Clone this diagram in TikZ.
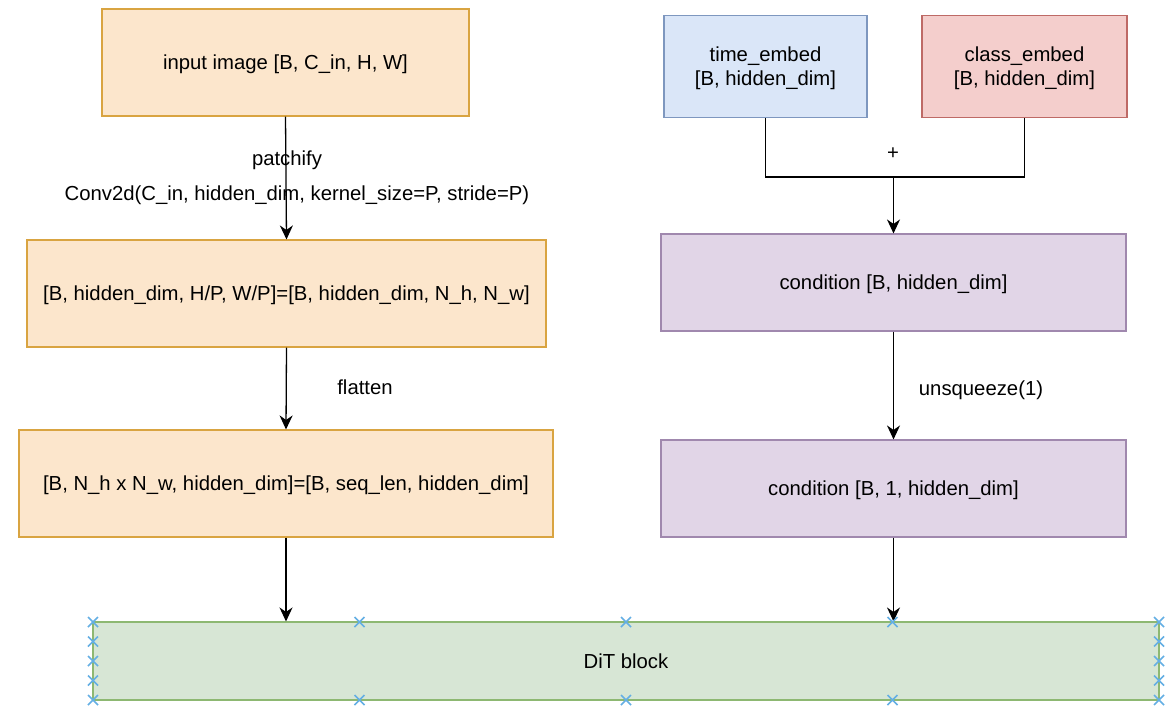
\documentclass[tikz,border=0pt]{standalone}
\usepackage{fontspec}
\setmainfont{Liberation Sans}
\usetikzlibrary{arrows.meta}
\definecolor{orF}{HTML}{FCE6CC}\definecolor{orD}{HTML}{D9A441}
\definecolor{blF}{HTML}{DAE6F8}\definecolor{blD}{HTML}{7E97BF}
\definecolor{rdF}{HTML}{F4CECC}\definecolor{rdD}{HTML}{BE6A66}
\definecolor{puF}{HTML}{E1D5E7}\definecolor{puD}{HTML}{A088AE}
\definecolor{gnF}{HTML}{D7E6D5}\definecolor{gnD}{HTML}{8DB872}
\definecolor{mk}{RGB}{100,175,228}
\begin{document}
\begin{tikzpicture}[x=1pt,y=-1pt,
  font=\fontsize{20.3}{24}\selectfont,
  box/.style={draw, line width=1.1pt, inner sep=0pt, align=center, text depth=0pt},
  orbox/.style={box, fill=orF, draw=orD},
  blbox/.style={box, fill=blF, draw=blD},
  rdbox/.style={box, fill=rdF, draw=rdD},
  pubox/.style={box, fill=puF, draw=puD},
  gnbox/.style={box, fill=gnF, draw=gnD},
  arr/.style={-{Stealth[length=14pt,width=13pt,inset=4.5pt]}, line width=1.3pt},
  lnk/.style={line width=1.3pt},
  lbl/.style={inner sep=0pt, text depth=0pt}]
\useasboundingbox (0,0) rectangle (1174,716);
\fill[white] (0,0) rectangle (1174,716);
% left column
\node[orbox, minimum width=367pt, minimum height=107pt] (in) at (285.5,62.5) {input image [B, C\_in, H, W]};
\node[orbox, minimum width=519pt, minimum height=107pt] (p) at (286.5,293.5) {[B, hidden\_dim, H/P, W/P]=[B, hidden\_dim, N\_h, N\_w]};
\node[orbox, minimum width=534pt, minimum height=107pt] (f) at (286,483.5) {[B, N\_h x N\_w, hidden\_dim]=[B, seq\_len, hidden\_dim]};
% right column
\node[blbox, minimum width=203pt, minimum height=102pt] (te) at (765.5,66.5) {time\_embed\\{}{[B, hidden\_dim]}};
\node[rdbox, minimum width=205pt, minimum height=102pt] (ce) at (1024.5,66.5) {class\_embed\\{}{[B, hidden\_dim]}};
\node[pubox, minimum width=465pt, minimum height=97pt] (c1) at (893.5,282.5) {condition [B, hidden\_dim]};
\node[pubox, minimum width=465pt, minimum height=97pt] (c2) at (893.5,488.5) {condition [B, 1, hidden\_dim]};
% DiT block
\node[gnbox, minimum width=1066pt, minimum height=78pt] (dit) at (626,661) {DiT block};
% connectors
\draw[arr] (in.south) -- (p.north);
\node[lbl] (lp) at (287,158) {patchify};
\node[lbl] (lc) at (297,193) {Conv2d(C\_in, hidden\_dim, kernel\_size=P, stride=P)};
\draw[arr] (p.south) -- (f.north);
\node[lbl] (lf) at (365,387) {flatten};
\draw[arr] (f.south) -- (f.south |- dit.north);
\coordinate (m) at (893.5,177);
\draw[lnk] (te.south) |- (m) -| (ce.south);
\draw[arr] (m) -- (c1.north);
\node[lbl] (plus) at (893,154) {+};
\draw[arr] (c1.south) -- (c2.north);
\node[lbl] (lu) at (981,388) {unsqueeze(1)};
\draw[arr] (c2.south) -- (c2.south |- dit.north);
% selection markers
\foreach \x/\y in {93/622,93/641.5,93/661,93/680.5,93/700,
                   1159/622,1159/641.5,1159/661,1159/680.5,1159/700,
                   359.5/622,626/622,892.5/622,359.5/700,626/700,892.5/700}
  \draw[mk, line width=1.6pt] (\x-5,\y-5) -- (\x+5,\y+5) (\x-5,\y+5) -- (\x+5,\y-5);
\end{tikzpicture}
\end{document}
